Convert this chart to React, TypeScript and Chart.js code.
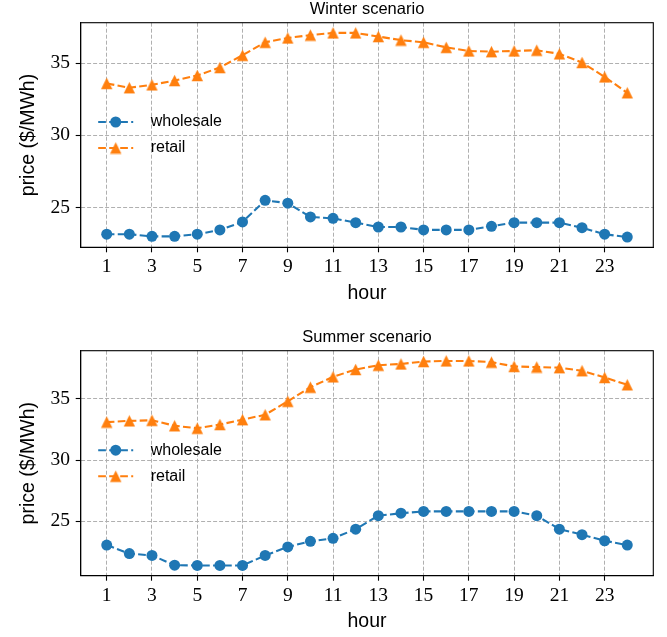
import { useEffect, useRef } from "react";
import { Chart, registerables } from "chart.js";

Chart.register(...registerables);

// ---- data ----
const hours = [1, 2, 3, 4, 5, 6, 7, 8, 9, 10, 11, 12, 13, 14, 15, 16, 17, 18, 19, 20, 21, 22, 23, 24];
const winterWholesale = [23.15, 23.15, 23.0, 23.0, 23.15, 23.45, 24.0, 25.5, 25.3, 24.35, 24.25, 23.95, 23.65, 23.65, 23.45, 23.45, 23.45, 23.7, 23.95, 23.95, 23.95, 23.6, 23.15, 22.95];
const winterRetail = [33.6, 33.3, 33.5, 33.8, 34.15, 34.7, 35.55, 36.45, 36.75, 36.95, 37.1, 37.1, 36.85, 36.6, 36.45, 36.1, 35.85, 35.8, 35.85, 35.9, 35.65, 35.05, 34.05, 32.95];
const summerWholesale = [23.05, 22.35, 22.2, 21.4, 21.38, 21.38, 21.38, 22.2, 22.9, 23.35, 23.6, 24.35, 25.45, 25.65, 25.8, 25.8, 25.8, 25.8, 25.8, 25.45, 24.35, 23.9, 23.4, 23.05];
const summerRetail = [33.1, 33.2, 33.25, 32.8, 32.6, 32.9, 33.3, 33.7, 34.8, 35.95, 36.8, 37.4, 37.75, 37.85, 38.05, 38.1, 38.1, 38.0, 37.65, 37.6, 37.55, 37.3, 36.75, 36.15];
const xTickValues = [1, 3, 5, 7, 9, 11, 13, 15, 17, 19, 21, 23];
const yTickValues = [25, 30, 35];
const seriesLabels = ["wholesale", "retail"];
const chartTitles = ["Winter scenario", "Summer scenario"];
const xAxisLabel = "hour";
const yAxisLabel = "price ($/MWh)";

const BLUE = "#1f77b4";
const ORANGE = "#ff7f0e";
const SANS = "'Liberation Sans', Arial, sans-serif";
const SERIF = "'Liberation Serif', 'Times New Roman', serif";
const GRID = "#b0b0b0";

function makeTriangle(color: string) {
  const c = document.createElement("canvas");
  c.width = 13;
  c.height = 13;
  const g = c.getContext("2d")!;
  g.fillStyle = color;
  g.beginPath();
  g.moveTo(6.5, 0.8);
  g.lineTo(12.2, 12.2);
  g.lineTo(0.8, 12.2);
  g.closePath();
  g.fill();
  return c;
}

const framePlugin = {
  id: "frame",
  afterDatasetsDraw(chart: any) {
    const { ctx, chartArea } = chart;
    const { left, top, right, bottom } = chartArea;
    ctx.save();
    ctx.strokeStyle = "#000";
    ctx.lineWidth = 1.1;
    ctx.strokeRect(left, top, right - left, bottom - top);
    ctx.restore();
  },
};

const legendPlugin = {
  id: "mplLegend",
  afterDraw(chart: any) {
    const { ctx, chartArea } = chart;
    const ds = chart.data.datasets;
    const cy = (chartArea.top + chartArea.bottom) / 2;
    const rowH = 26;
    ds.forEach((d: any, i: number) => {
      const y = cy + (i - (ds.length - 1) / 2) * rowH;
      const x0 = chartArea.left + 17.5;
      const x1 = chartArea.left + 52.5;
      ctx.save();
      ctx.strokeStyle = d.borderColor;
      ctx.lineWidth = d.borderWidth;
      ctx.setLineDash(d.borderDash);
      ctx.beginPath();
      ctx.moveTo(x0, y);
      ctx.lineTo(x1, y);
      ctx.stroke();
      ctx.setLineDash([]);
      const mx = (x0 + x1) / 2;
      if (typeof d.pointStyle === "string") {
        ctx.fillStyle = d.pointBackgroundColor;
        ctx.beginPath();
        ctx.arc(mx, y, d.pointRadius, 0, Math.PI * 2);
        ctx.fill();
      } else {
        const im = d.pointStyle;
        ctx.drawImage(im, mx - im.width / 2, y - im.height / 2);
      }
      ctx.fillStyle = "#000";
      ctx.font = `16px ${SANS}`;
      ctx.textBaseline = "middle";
      ctx.textAlign = "left";
      ctx.fillText(d.label, chartArea.left + 70, y);
      ctx.restore();
    });
  },
};

type Props = {
  title: string;
  wholesale: number[];
  retail: number[];
  height: number;
  bottomPad: number;
};

function PriceChart({ title, wholesale, retail, height, bottomPad }: Props) {
  const ref = useRef<HTMLCanvasElement | null>(null);
  useEffect(() => {
    const all = [...wholesale, ...retail];
    const lo = Math.min(...all);
    const hi = Math.max(...all);
    const ym = (hi - lo) * 0.05;
    const xlo = Math.min(...hours);
    const xhi = Math.max(...hours);
    const xm = (xhi - xlo) * 0.05;

    const gridOpts = {
      color: GRID,
      lineWidth: 1,
      tickLength: 5,
      tickColor: "#000",
      tickWidth: 1.1,
      tickBorderDash: [],
    };
    const borderOpts = { display: true, color: "#000", width: 1.1, dash: [4, 2] };

    const chart = new Chart(ref.current!, {
      type: "line",
      data: {
        datasets: [
          {
            label: seriesLabels[0],
            data: hours.map((h, i) => ({ x: h, y: wholesale[i] })),
            borderColor: BLUE,
            backgroundColor: BLUE,
            borderWidth: 2.08,
            borderDash: [7.7, 3.3],
            pointStyle: "circle",
            pointRadius: 5.5,
            pointBorderWidth: 0,
            pointBackgroundColor: BLUE,
            tension: 0,
          } as any,
          {
            label: seriesLabels[1],
            data: hours.map((h, i) => ({ x: h, y: retail[i] })),
            borderColor: ORANGE,
            backgroundColor: ORANGE,
            borderWidth: 2.08,
            borderDash: [7.7, 3.3],
            pointStyle: makeTriangle(ORANGE),
            pointRadius: 5.5,
            pointBorderWidth: 0,
            pointBackgroundColor: ORANGE,
            tension: 0,
          } as any,
        ],
      },
      options: {
        animation: false,
        responsive: false,
        events: [],
        layout: { padding: { left: 0, right: 13.7, top: 0, bottom: bottomPad } },
        plugins: {
          legend: { display: false },
          tooltip: { enabled: false },
          title: {
            display: true,
            text: title,
            fullSize: false,
            color: "#000",
            font: { family: SANS, size: 16.5, weight: "normal" },
            padding: { top: 0, bottom: 2.9 },
          },
        },
        scales: {
          x: {
            type: "linear",
            min: xlo - xm,
            max: xhi + xm,
            afterBuildTicks: (s: any) => {
              s.ticks = xTickValues.map((v) => ({ value: v }));
            },
            afterFit: (s: any) => {
              s.height = 57.7;
            },
            ticks: {
              color: "#000",
              font: { family: SERIF, size: 19.5 },
              padding: 3,
              maxRotation: 0,
              autoSkip: false,
              callback: (v: any) => String(v),
            },
            grid: gridOpts,
            border: borderOpts,
            title: {
              display: true,
              text: xAxisLabel,
              color: "#000",
              font: { family: SANS, size: 19.5 },
              padding: 0,
            },
          },
          y: {
            type: "linear",
            min: lo - ym,
            max: hi + ym,
            afterBuildTicks: (s: any) => {
              s.ticks = yTickValues.map((v) => ({ value: v }));
            },
            afterFit: (s: any) => {
              s.width = 80.7;
            },
            ticks: {
              color: "#000",
              font: { family: SERIF, size: 19.5 },
              padding: 5.7,
              callback: (v: any) => String(v),
            },
            grid: gridOpts,
            border: borderOpts,
            title: {
              display: true,
              text: yAxisLabel,
              color: "#000",
              font: { family: SANS, size: 19.5 },
              padding: { top: 17.3, bottom: 0 },
            },
          },
        },
      } as any,
      plugins: [framePlugin, legendPlugin],
    });
    return () => chart.destroy();
  }, [title, wholesale, retail, height, bottomPad]);

  return (
    <canvas
      ref={ref}
      width={667}
      height={height}
      style={{ display: "block", width: 667, height }}
    />
  );
}

export default function App() {
  return (
    <div
      style={{
        position: "absolute",
        left: 0,
        top: 0,
        width: 667,
        height: 637,
        background: "#fff",
      }}
    >
      <PriceChart
        title={chartTitles[0]}
        wholesale={winterWholesale}
        retail={winterRetail}
        height={328}
        bottomPad={23}
      />
      <PriceChart
        title={chartTitles[1]}
        wholesale={summerWholesale}
        retail={summerRetail}
        height={309}
        bottomPad={3.6}
      />
    </div>
  );
}
